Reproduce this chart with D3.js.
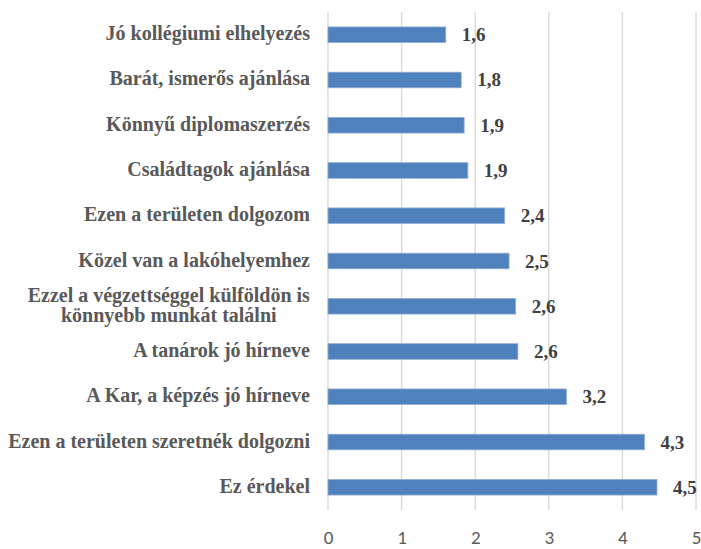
<!DOCTYPE html>
<html><head><meta charset="utf-8">
<script src="https://cdn.jsdelivr.net/npm/d3@7"></script>
<style>body{margin:0;background:#fff}
.serif{font-family:"Liberation Serif","Tinos","DejaVu Serif",serif;font-weight:bold}</style>
</head><body>
<script>
const categories = [
  "Jó kollégiumi elhelyezés",
  "Barát, ismerős ajánlása",
  "Könnyű diplomaszerzés",
  "Családtagok ajánlása",
  "Ezen a területen dolgozom",
  "Közel van a lakóhelyemhez",
  "Ezzel a végzettséggel külföldön is|könnyebb munkát találni",
  "A tanárok jó hírneve",
  "A Kar, a képzés jó hírneve",
  "Ezen a területen szeretnék dolgozni",
  "Ez érdekel"
];
const values = [1.60, 1.81, 1.85, 1.90, 2.40, 2.46, 2.55, 2.58, 3.24, 4.30, 4.47];
const valueLabels = ["1,6","1,8","1,9","1,9","2,4","2,5","2,6","2,6","3,2","4,3","4,5"];
const tickValues = [0,1,2,3,4,5];

const W = 701, H = 549;
const svg = d3.select("body").append("svg").attr("width", W).attr("height", H);

const x = d3.scaleLinear().domain([0,5]).range([328, 696]);
const y = d3.scaleBand().domain(categories).range([12, 510]).paddingInner(0.655).paddingOuter(0.33);

// gridlines
svg.append("g").selectAll("line").data(tickValues).join("line")
  .attr("x1", d => x(d)).attr("x2", d => x(d))
  .attr("y1", 12).attr("y2", 510)
  .attr("stroke", "#d9d9d9").attr("stroke-width", 1.4);

// x axis labels
const xAxis = d3.axisBottom(x).tickValues(tickValues).tickSize(0).tickPadding(0).tickFormat(d => d);
const gx = svg.append("g").attr("transform", "translate(0,531)").call(xAxis);
gx.select(".domain").remove();
gx.selectAll("text")
  .attr("dy", null).attr("y", 13)
  .style("font-family", "Carlito, 'Open Sans', sans-serif")
  .style("font-size", "19px").attr("fill", "#595959");

// bars
svg.append("g").selectAll("rect").data(categories).join("rect")
  .attr("x", x(0))
  .attr("y", d => y(d))
  .attr("width", (d,i) => x(values[i]) - x(0))
  .attr("height", y.bandwidth())
  .attr("fill", "#4f81bd")
  .attr("stroke", "#92aed6").attr("stroke-width", 0.8);

// category labels
const lab = svg.append("g");
categories.forEach((c, i) => {
  const cy = y(c) + y.bandwidth()/2;
  const lines = c.split("|");
  const t = lab.append("text").attr("class", "serif")
    .style("font-size", "20px")
    .attr("fill", "#595959");
  if (lines.length === 1) {
    t.attr("x", 310).attr("y", cy + 5.5).attr("text-anchor", "end").text(c);
  } else {
    t.attr("text-anchor", "middle");
    lines.forEach((l, k) => {
      t.append("tspan").attr("x", 0).attr("y", cy + 5.5 + (k === 0 ? -10 : 10)).text(l);
    });
    const w = t.node().getBBox().width;
    t.selectAll("tspan").attr("x", 310 - w/2);
  }
});

// value labels
svg.append("g").selectAll("text").data(categories).join("text")
  .attr("class", "serif")
  .attr("x", (d,i) => x(values[i]) + 16)
  .attr("y", d => y(d) + y.bandwidth()/2 + 6.5)
  .style("font-size", "19px")
  .attr("fill", "#404040")
  .text((d,i) => valueLabels[i]);
</script>
</body></html>
